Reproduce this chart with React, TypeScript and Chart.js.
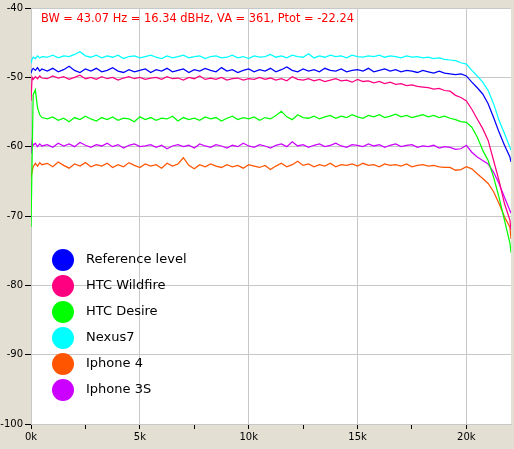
import { useEffect, useRef } from "react";
import { Chart, registerables } from "chart.js";

Chart.register(...registerables);

// Frequency bins (Hz)
const freqs = [
  0, 50, 100, 200, 300, 400, 500,
  750, 1000, 1250, 1500, 1750, 2000, 2250, 2500, 2750, 3000,
  3250, 3500, 3750, 4000, 4250, 4500, 4750, 5000, 5250, 5500,
  5750, 6000, 6250, 6500, 6750, 7000, 7250, 7500, 7750, 8000,
  8250, 8500, 8750, 9000, 9250, 9500, 9750, 10000, 10250, 10500,
  10750, 11000, 11250, 11500, 11750, 12000, 12250, 12500, 12750, 13000,
  13250, 13500, 13750, 14000, 14250, 14500, 14750, 15000, 15250, 15500,
  15750, 16000, 16250, 16500, 16750, 17000, 17250, 17500, 17750, 18000,
  18250, 18500, 18750, 19000,
  19250, 19500, 19750, 20000, 20250, 20500, 20750, 21000, 21250, 21500, 21750, 22000, 22050,
];

const referenceLevel = [
  -49.4, -48.9, -48.7, -49.0, -48.6, -49.1, -48.8,
  -49.1, -48.7, -49.2, -48.9, -48.4, -49.0, -49.3, -48.8, -49.1, -48.7,
  -49.2, -49.0, -48.6, -49.1, -49.3, -48.9, -49.2, -49.0, -48.8, -49.3,
  -48.9, -49.1, -48.7, -49.2, -49.0, -48.8, -49.3, -48.9, -49.1, -48.7,
  -49.0, -49.2, -48.6, -49.1, -48.9, -49.3, -49.0, -48.8, -49.2, -48.9,
  -49.1, -48.7, -49.2, -48.9, -48.5, -49.0, -49.2, -48.8, -49.1, -48.9,
  -49.2, -48.7, -49.0, -49.1, -48.8, -49.2, -49.0, -48.9, -49.1, -48.7,
  -49.2, -49.0, -48.8, -49.1, -48.9, -49.2, -49.0, -49.1, -49.3, -49.0,
  -49.2, -49.4, -49.1, -49.4,
  -49.5, -49.6, -49.5, -49.8, -50.7, -51.5, -52.4, -53.8, -55.8, -57.9, -59.8, -61.5, -62.2,
];

const htcWildfire = [
  -53.4, -50.0, -50.3, -49.9, -50.2, -49.8, -50.1,
  -50.2, -49.8, -50.1, -49.9, -50.3, -50.0, -49.7, -50.2, -50.0, -50.3,
  -49.9, -50.2, -50.0, -50.4, -50.1, -49.9, -50.2, -50.0, -50.3, -50.1,
  -50.0, -50.3, -49.9, -50.2, -50.1, -50.4, -50.0, -50.2, -49.8, -50.3,
  -50.1, -50.3, -50.0, -50.4, -50.2, -50.1, -50.4, -50.2, -50.3, -50.0,
  -50.3, -50.1, -50.4, -50.2, -50.5, -49.9, -50.3, -50.4, -50.2, -50.5,
  -50.3, -50.6, -50.4, -50.2, -50.5, -50.4, -50.7, -50.3, -50.6, -50.5,
  -50.8, -50.6, -50.9, -50.7, -51.0, -50.9, -51.2, -51.1, -51.3, -51.4,
  -51.5, -51.7, -51.6, -51.9,
  -52.0, -52.6, -52.9, -53.4, -54.6, -56.0, -57.4, -59.1, -62.0, -64.9, -68.2, -70.6, -72.0,
];

const htcDesire = [
  -71.6, -62.0, -52.5, -51.8, -54.4, -55.4, -55.8,
  -56.0, -55.7, -56.2, -55.9, -56.4, -55.8, -56.1, -55.6, -56.0, -56.3,
  -55.8, -56.1, -55.7, -56.2, -55.9, -56.0, -56.4, -55.7, -56.1, -55.8,
  -56.2, -55.9, -56.0, -55.6, -56.3, -55.8, -56.1, -55.9, -56.2, -55.7,
  -56.0, -55.8, -56.3, -55.9, -55.6, -56.1, -55.8, -56.0, -55.7, -56.2,
  -55.8, -56.0, -55.5, -54.9, -55.7, -56.1, -55.4, -55.8, -55.9, -55.6,
  -56.0, -55.7, -55.5, -55.9, -55.6, -55.8, -55.4, -55.7, -55.9, -55.5,
  -55.7, -55.4, -55.8, -55.6, -55.3, -55.7, -55.5, -55.8, -55.6, -55.4,
  -55.7, -55.5, -55.8, -55.6,
  -55.9, -56.1, -56.4, -56.5, -57.2, -58.6, -60.5, -62.0, -64.4, -67.3, -70.6, -73.9, -75.3,
];

const nexus7 = [
  -48.0, -47.4, -47.1, -47.3, -46.9, -47.2, -47.0,
  -47.1, -46.8, -47.2, -46.9, -47.0, -46.7, -46.3, -46.9, -47.1, -46.8,
  -47.2, -46.9, -47.1, -46.8, -47.3, -47.0, -46.9, -47.2, -47.0, -46.8,
  -47.1, -47.3, -46.9, -47.2, -47.0, -46.8, -47.2, -47.0, -46.9, -47.3,
  -47.0, -46.9, -47.2, -47.1, -46.8, -47.2, -47.0, -47.3, -46.9, -47.1,
  -47.0, -46.7, -47.1, -46.9, -47.2, -46.8, -47.0, -47.1, -46.6, -47.2,
  -46.9, -47.1, -46.8, -47.0, -46.9, -47.2, -46.8, -47.0, -47.1, -46.9,
  -47.0, -46.8, -47.1, -46.9, -47.0, -47.2, -46.9, -47.1, -47.0, -47.2,
  -47.1, -47.3, -47.2, -47.4,
  -47.5, -47.6, -47.9, -48.1, -49.0, -49.8, -50.7, -51.9, -53.8, -56.2, -58.1, -60.1, -60.5,
];

const iphone4 = [
  -64.5, -63.6, -62.9, -62.4, -62.8, -62.3, -62.6,
  -62.4, -62.9, -62.2, -62.7, -63.1, -62.5, -62.8, -62.3, -62.9, -62.6,
  -62.8, -62.4, -63.0, -62.6, -62.9, -62.3, -62.7, -63.0, -62.5, -62.8,
  -62.6, -63.1, -62.4, -62.8, -62.5, -61.6, -62.7, -63.2, -62.6, -62.9,
  -62.5, -62.8, -63.0, -62.6, -62.9, -62.7, -63.1, -62.6, -62.8, -63.0,
  -62.7, -63.3, -62.8, -62.4, -62.9, -62.6, -62.1, -62.7, -62.5, -62.9,
  -62.6, -62.8, -62.4, -62.9, -62.6, -62.7, -62.5, -62.8, -62.4, -62.7,
  -62.6, -62.9, -62.5, -62.7, -62.6, -62.8, -62.5, -62.9, -62.7, -62.6,
  -62.8, -62.7, -62.9, -63.0,
  -63.0, -63.4, -63.3, -62.9, -63.2, -63.9, -64.6, -65.3, -66.5, -68.2, -70.1, -71.6, -73.3,
];

const iphone3S = [
  -61.0, -59.3, -59.8, -59.5, -60.0, -59.6, -59.9,
  -59.7, -60.1, -59.5, -59.9, -59.6, -60.0, -59.4, -59.8, -60.1, -59.7,
  -59.9, -59.5, -60.0, -59.7, -60.2, -59.8, -59.6, -60.0, -59.9, -59.7,
  -60.1, -59.8, -60.3, -59.9, -59.7, -60.0, -59.8, -60.2, -59.6, -59.9,
  -60.1, -59.7, -59.9, -60.2, -59.8, -60.0, -59.5, -59.9, -60.1, -59.7,
  -59.9, -60.2, -59.8, -59.6, -60.0, -59.3, -59.9, -59.7, -60.1, -59.8,
  -59.6, -60.0, -59.8, -59.5, -59.9, -60.1, -59.7, -59.8, -60.0, -59.6,
  -59.9, -59.7, -60.1, -59.8, -59.6, -60.0, -59.8, -59.7, -60.1, -59.9,
  -60.0, -59.8, -60.2, -60.0,
  -60.1, -60.4, -60.3, -59.8, -60.8, -61.5, -62.0, -62.5, -63.7, -65.3, -67.3, -69.2, -69.6,
];

const seriesNames = ["Reference level", "HTC Wildfire", "HTC Desire", "Nexus7", "Iphone 4", "Iphone 3S"];
const seriesValues = [referenceLevel, htcWildfire, htcDesire, nexus7, iphone4, iphone3S];
const seriesColors = ["#0000ff", "#ff0080", "#00ff00", "#00ffff", "#ff5500", "#cc00ff"];

const xTickValues = [0, 2500, 5000, 7500, 10000, 12500, 15000, 17500, 20000];
const yTickValues = [-100, -90, -80, -70, -60, -50, -40];
const headerText = "BW = 43.07 Hz = 16.34 dBHz, VA = 361, Ptot = -22.24";

const FONT = "'DejaVu Sans', sans-serif";
const GRID = "#c8c8c8";

const decorPlugin = {
  id: "decor",
  beforeDraw(chart: any) {
    const { ctx, chartArea: a, width, height } = chart;
    ctx.save();
    ctx.fillStyle = "#e3dfd3";
    ctx.fillRect(0, 0, width, height);
    ctx.fillStyle = "#ffffff";
    ctx.fillRect(a.left, a.top, a.right - a.left, a.bottom - a.top);
    ctx.restore();
  },
  afterDatasetsDraw(chart: any) {
    const { ctx, chartArea: a } = chart;
    ctx.save();
    ctx.font = `11.4px ${FONT}`;
    ctx.fillStyle = "#ff0000";
    ctx.textBaseline = "middle";
    ctx.textAlign = "left";
    ctx.fillText(headerText, a.left + 10, a.top + 11);

    ctx.font = `13px ${FONT}`;
    chart.data.datasets.forEach((ds: any, i: number) => {
      const cy = a.top + 252 + i * 26;
      const cx = a.left + 32;
      ctx.beginPath();
      ctx.arc(cx, cy, 11, 0, Math.PI * 2);
      ctx.fillStyle = ds.borderColor;
      ctx.fill();
      ctx.fillStyle = "#000000";
      ctx.fillText(ds.label, a.left + 55, cy);
    });
    ctx.restore();
  },
};

export default function App() {
  const ref = useRef<HTMLCanvasElement | null>(null);

  useEffect(() => {
    if (!ref.current) return;
    const datasets = seriesNames.map((name, i) => ({
      label: name,
      data: freqs.map((f, j) => ({ x: f, y: seriesValues[i][j] })),
      borderColor: seriesColors[i],
      backgroundColor: seriesColors[i],
      borderWidth: 1.25,
      pointRadius: 0,
      tension: 0,
      fill: false,
    }));

    const chart = new Chart(ref.current, {
      type: "line",
      data: { datasets },
      plugins: [decorPlugin],
      options: {
        responsive: false,
        animation: false,
        layout: { padding: { top: 7, right: 3, left: 0, bottom: 0 } },
        plugins: {
          legend: { display: false },
          title: { display: false },
          tooltip: { enabled: false },
        },
        scales: {
          x: {
            type: "linear",
            min: 0,
            max: 22050,
            afterBuildTicks: (scale: any) => {
              scale.ticks = xTickValues.map((v) => ({ value: v }));
            },
            afterFit: (scale: any) => {
              scale.height = 25;
            },
            ticks: {
              autoSkip: false,
              maxRotation: 0,
              padding: 2,
              color: "#000000",
              font: { family: FONT, size: 10 },
              callback: (v: any) => (Number(v) % 5000 === 0 ? `${Number(v) / 1000}k` : ""),
            },
            grid: {
              color: (c: any) => (c.tick && c.tick.value % 5000 === 0 ? GRID : "rgba(0,0,0,0)"),
              tickColor: "#000000",
              tickLength: 5,
              drawTicks: true,
            },
            border: { color: GRID },
          },
          y: {
            type: "linear",
            min: -100,
            max: -40,
            afterBuildTicks: (scale: any) => {
              scale.ticks = yTickValues.map((v) => ({ value: v }));
            },
            afterFit: (scale: any) => {
              scale.width = 31;
            },
            ticks: {
              padding: 2,
              color: "#000000",
              font: { family: FONT, size: 10 },
            },
            grid: {
              color: GRID,
              tickColor: "#000000",
              tickLength: 6,
            },
            border: { color: GRID },
          },
        },
      },
    } as any);
    return () => chart.destroy();
  }, []);

  return (
    <div style={{ position: "fixed", left: 0, top: 0, width: 514, height: 449 }}>
      <canvas ref={ref} width={514} height={449} style={{ width: 514, height: 449, display: "block" }} />
    </div>
  );
}
